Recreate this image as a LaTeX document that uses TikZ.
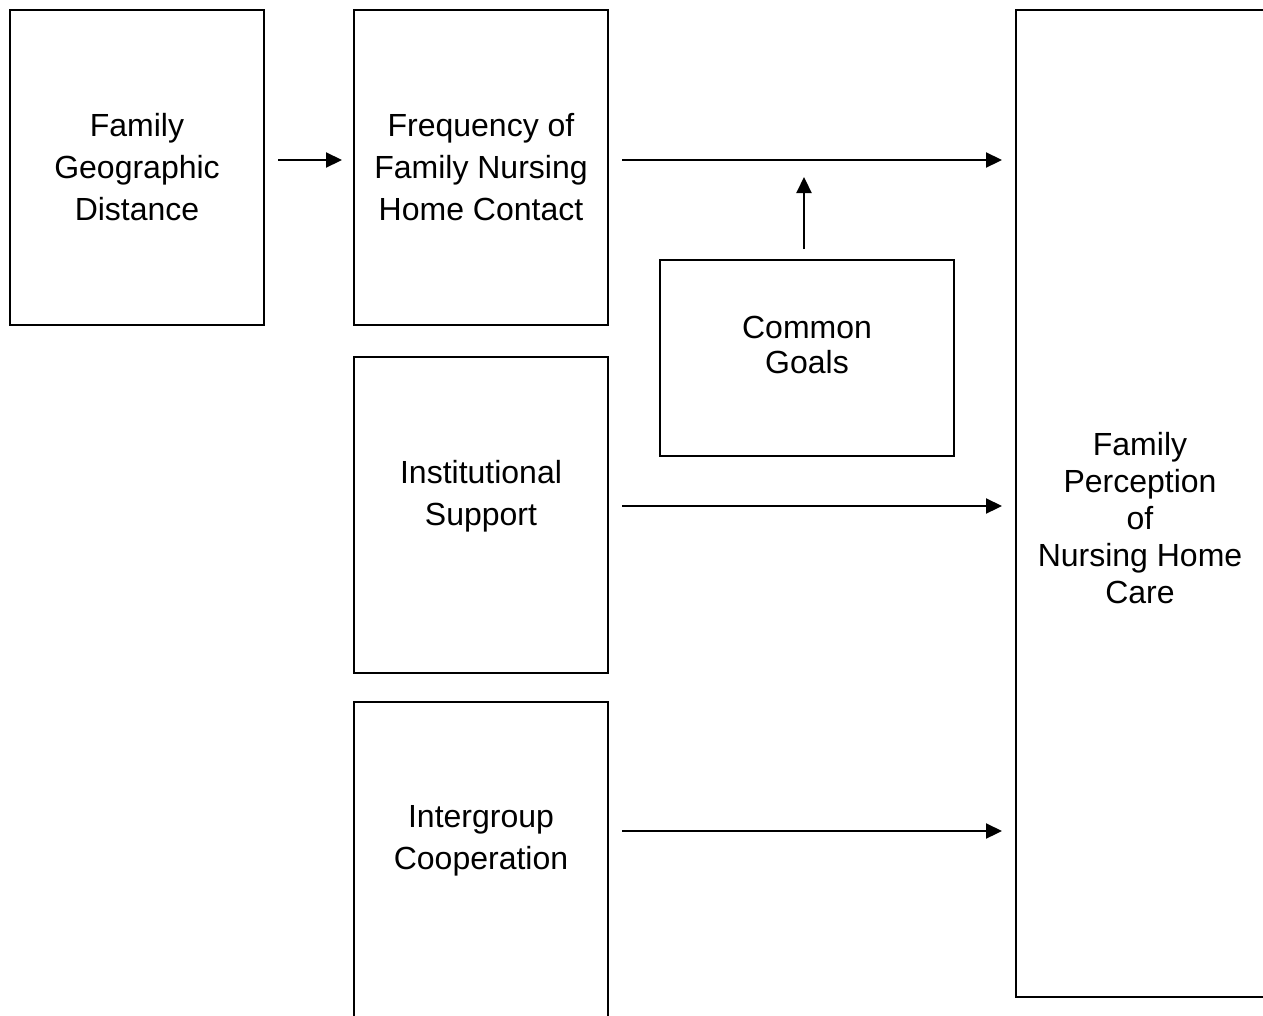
\documentclass[tikz,border=0pt]{standalone}
\usepackage{fontspec}
\setmainfont{Liberation Sans}
\usetikzlibrary{arrows.meta}
\begin{document}
\begin{tikzpicture}[x=1pt,y=-1pt,
  box/.style={draw,line width=2pt,inner sep=0pt},
  lbl/.style={align=center,inner sep=0pt,font=\fontsize{32}{42}\selectfont},
  arr/.style={line width=2.2pt,-{Triangle[length=16pt,width=15pt]}}]
\useasboundingbox[fill=white] (0,0) rectangle (1263,1015);
% boxes
\node[box,minimum width=254pt,minimum height=315pt] (A) at (137,167.5) {};
\node[box,minimum width=254pt,minimum height=315pt] (B) at (481,167.5) {};
\node[box,minimum width=254pt,minimum height=316pt] (C) at (481,515) {};
\node[box,minimum width=254pt,minimum height=340pt] (D) at (481,872) {};
\node[box,minimum width=294pt,minimum height=196pt] (G) at (807,358) {};
\node[box,minimum width=280pt,minimum height=987pt] (R) at (1156,503.5) {};
% texts
\node[lbl] (tA) at (137,167) {Family\\Geographic\\Distance};
\node[lbl] (tB) at (481,167) {Frequency of\\Family Nursing\\Home Contact};
\node[lbl] (tC) at (481,496) {Institutional\\Support};
\node[lbl] (tD) at (481,841) {Intergroup\\Cooperation};
\node[lbl,font=\fontsize{32}{35}\selectfont] (tG) at (807,344.5) {Common\\Goals};
\node[lbl,font=\fontsize{32}{37}\selectfont] (tR) at (1140,518.5) {Family\\Perception\\of\\Nursing Home\\Care};
% connector levels
\coordinate (y1) at (0,160);
\coordinate (y2) at (0,506);
\coordinate (y3) at (0,831);
\coordinate (gx) at (804,0);
% arrows
\draw[arr,shorten <=13pt,shorten >=11pt] (A.east|-y1) -- (B.west|-y1);
\draw[arr,shorten <=13pt,shorten >=13pt] (B.east|-y1) -- (R.west|-y1);
\draw[arr,shorten <=13pt,shorten >=13pt] (C.east|-y2) -- (R.west|-y2);
\draw[arr,shorten <=13pt,shorten >=13pt] (D.east|-y3) -- (R.west|-y3);
\draw[arr,shorten <=10pt,shorten >=17pt] (gx|-G.north) -- (gx|-y1);
\end{tikzpicture}
\end{document}
